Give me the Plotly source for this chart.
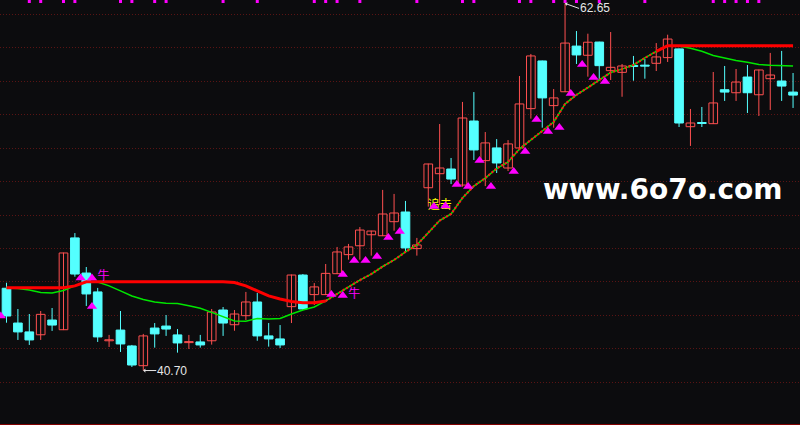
import plotly.graph_objects as go

# ---------------- data ----------------
opens = [45.62, 43.54, 43.01, 42.84, 43.72, 43.14, 48.63, 46.53, 45.40, 42.48,
         43.12, 42.17, 40.99, 43.24, 43.36, 42.83, 42.37, 42.41, 42.48, 44.32,
         43.44, 43.98, 44.80, 42.77, 42.59, 44.52, 46.41, 45.24, 45.24, 46.49,
         47.63, 48.16, 48.82, 48.76, 49.60, 50.18, 47.99, 51.63, 52.47, 52.75,
         51.79, 55.62, 53.25, 54.01, 52.81, 54.01, 56.36, 59.21, 56.54, 57.37,
         60.10, 59.55, 60.34, 58.63, 58.53, 58.90, 58.92, 59.07, 59.41, 59.93,
         55.28, 55.49, 55.46, 57.49, 57.31, 58.25, 57.19, 58.15, 58.01, 57.35]
highs = [45.95, 44.38, 44.08, 44.26, 44.44, 47.75, 48.92, 46.89, 45.64, 42.83,
         44.26, 42.23, 42.89, 43.54, 44.02, 43.18, 42.83, 42.83, 44.38, 44.50,
         44.32, 45.40, 45.34, 43.54, 43.42, 46.44, 46.47, 45.93, 47.07, 48.09,
         48.27, 49.28, 49.06, 51.50, 51.26, 50.84, 48.63, 53.07, 55.44, 53.41,
         56.76, 57.35, 54.96, 54.54, 54.48, 58.31, 59.63, 59.23, 57.53, 62.65,
         61.00, 60.84, 60.36, 60.94, 59.03, 59.51, 59.33, 60.28, 60.78, 59.95,
         56.34, 56.46, 58.55, 58.91, 58.73, 58.97, 58.69, 59.69, 59.81, 58.49]
lows = [43.56, 42.53, 42.23, 42.53, 43.07, 43.12, 46.31, 44.56, 42.41, 42.11,
        41.81, 40.91, 40.70, 42.07, 42.77, 41.77, 41.99, 42.07, 42.25, 42.77,
        43.08, 43.72, 42.48, 42.13, 42.05, 43.54, 44.32, 44.62, 45.22, 46.47,
        47.33, 47.33, 47.57, 48.74, 49.06, 47.85, 47.57, 50.50, 50.60, 51.85,
        51.69, 53.29, 51.73, 52.51, 52.63, 53.99, 55.76, 55.22, 55.22, 57.35,
        59.03, 58.27, 58.07, 58.07, 57.07, 58.03, 58.15, 58.61, 59.15, 55.26,
        54.13, 55.26, 55.44, 56.82, 56.82, 56.10, 55.92, 56.28, 56.82, 56.40]
closes = [43.96, 43.01, 42.53, 44.06, 43.42, 47.73, 46.47, 45.28, 42.71, 42.48,
          42.29, 41.03, 42.77, 42.89, 43.18, 42.35, 42.37, 42.23, 44.20, 43.54,
          44.08, 44.80, 42.77, 42.59, 42.23, 46.41, 44.38, 45.70, 46.51, 47.79,
          48.09, 49.10, 49.04, 50.06, 50.12, 48.03, 48.21, 53.05, 52.81, 52.15,
          55.80, 53.89, 54.31, 53.11, 54.25, 56.64, 59.51, 57.00, 57.00, 60.28,
          59.57, 60.33, 58.93, 58.83, 58.91, 58.88, 58.90, 59.45, 60.52, 55.50,
          55.50, 55.47, 56.70, 57.35, 57.95, 57.31, 58.67, 58.37, 57.71, 57.17]

ma_line = [45.64, 45.61, 45.52, 45.37, 45.34, 45.49, 45.76, 45.99, 45.99, 45.76,
           45.46, 45.16, 44.95, 44.80, 44.72, 44.71, 44.58, 44.42, 44.18, 43.90,
           43.66, 43.65, 43.81, 43.78, 43.81, 44.08, 44.32, 44.50, 44.86, 45.28,
           45.70, 46.11, 46.47, 46.92, 47.31, 47.79, 48.21, 48.92, 49.67, 50.06,
           51.02, 51.73, 52.21, 52.78, 53.17, 53.95, 54.48, 54.99, 55.56, 56.64,
           57.18, 57.62, 58.07, 58.52, 58.72, 58.97, 59.39, 59.78, 60.10, 60.10,
           59.97, 59.79, 59.54, 59.37, 59.24, 59.13, 59.00, 58.95, 58.95, 58.91]

stop_line = [45.65, 45.65, 45.65, 45.65, 45.65, 45.65, 45.76, 46.01, 46.01, 46.01,
             46.01, 46.01, 46.01, 46.01, 46.01, 46.01, 46.01, 46.01, 46.01, 46.01,
             45.96, 45.76, 45.46, 45.16, 44.98, 44.83, 44.76, 44.76, 44.86, 45.28,
             45.70, 46.11, 46.47, 46.92, 47.31, 47.79, 48.21, 48.92, 49.67, 50.06,
             51.02, 51.73, 52.21, 52.78, 53.17, 53.95, 54.48, 54.99, 55.56, 56.64,
             57.18, 57.62, 58.07, 58.52, 58.72, 58.97, 59.39, 59.78, 60.12, 60.12,
             60.12, 60.12, 60.12, 60.12, 60.12, 60.12, 60.12, 60.12, 60.12, 60.12]

signal_idx = [-1, 6, 7, 7, 28, 29, 29, 30, 31, 32, 33, 34, 37, 38, 39, 40, 41, 42,
              44, 45, 46, 47, 48, 49, 50, 51, 52]
signal_price = [43.96, 46.23, 46.23, 44.53, 45.25, 45.19, 46.44, 47.28, 47.28, 47.52,
                48.66, 49.01, 50.51, 50.54, 51.82, 51.70, 53.26, 51.70, 52.60, 53.80,
                55.71, 54.99, 55.23, 57.26, 59.00, 58.22, 57.98]

top_mark_idx = [2, 3, 5, 6, 10, 11, 13, 14, 19, 22, 27, 28, 29, 31, 36, 40, 41,
                45, 46, 48, 49, 50, 52, 56, 62, 63, 64, 65, 66]

niu_idx = [8, 30]
niu_price = [46.29, 45.22]
niu_text = "牛"

zhuiji_idx = [37]
zhuiji_price = [50.54]
zhuiji_text = "追击"

high_label = "62.65"
low_label = "40.70"
watermark = "www.6o7o.com"

# ---------------- styling / scale ----------------
BG = "#0c0c0e"
UP = "#ff5050"
DOWN = "#54ffff"
PX_PER_UNIT = 16.725
Y_TOP = 62.855
PLOT_H = 424
Y_BOT = Y_TOP - PLOT_H / PX_PER_UNIT
grid_levels = [40, 42, 44, 46, 48, 50, 52, 54, 56, 58, 60, 62]

n = len(opens)
idx = list(range(n))
min_body = 1.0 / PX_PER_UNIT

fig = go.Figure()

# wicks
for up_flag, col in ((True, UP), (False, DOWN)):
    wx, wy = [], []
    for i in idx:
        is_up = closes[i] >= opens[i]
        if is_up == up_flag:
            wx += [i, i, None]
            wy += [lows[i], highs[i], None]
    fig.add_trace(go.Scatter(x=wx, y=wy, mode="lines",
                             line=dict(color=col, width=1),
                             hoverinfo="skip", showlegend=False))

# bodies
for up_flag, fill, col in ((True, BG, UP), (False, DOWN, DOWN)):
    bx, base, hgt = [], [], []
    for i in idx:
        is_up = closes[i] >= opens[i]
        if is_up == up_flag:
            lo = min(opens[i], closes[i])
            h = max(abs(closes[i] - opens[i]), min_body)
            bx.append(i)
            base.append(lo)
            hgt.append(h)
    fig.add_trace(go.Bar(x=bx, y=hgt, base=base, width=0.76,
                         marker=dict(color=fill, line=dict(color=col, width=1)),
                         hoverinfo="skip", showlegend=False))

# green moving average
fig.add_trace(go.Scatter(x=idx, y=ma_line, mode="lines",
                         line=dict(color="#00e600", width=1.5),
                         hoverinfo="skip", showlegend=False))

# red stop line: solid where apart, dotted where it rides on the average
merged = [abs(stop_line[i] - ma_line[i]) < 1e-9 for i in idx]
solid_y = []
dot_y = []
for i in idx:
    near_apart = (not merged[i]) or (i > 0 and not merged[i - 1]) or (i < n - 1 and not merged[i + 1])
    solid_y.append(stop_line[i] if near_apart else None)
    dot_y.append(stop_line[i] if merged[i] else None)
fig.add_trace(go.Scatter(x=idx, y=solid_y, mode="lines",
                         line=dict(color="#ff0000", width=3),
                         connectgaps=False, hoverinfo="skip", showlegend=False))
fig.add_trace(go.Scatter(x=idx, y=dot_y, mode="lines",
                         line=dict(color="#ff1a1a", width=2.2, dash="2px,2px"),
                         hoverinfo="skip", showlegend=False))

# texts
fig.add_trace(go.Scatter(x=[i + 0.5 for i in niu_idx], y=niu_price, mode="text",
                         text=[niu_text] * len(niu_idx),
                         textfont=dict(color="#ff00ff", size=12, family="Noto Sans CJK SC"),
                         hoverinfo="skip", showlegend=False))
fig.add_trace(go.Scatter(x=[i - 0.05 for i in zhuiji_idx], y=zhuiji_price, mode="text",
                         text=[zhuiji_text], textposition="middle right",
                         textfont=dict(color="#ffff00", size=12, family="Noto Sans CJK SC"),
                         hoverinfo="skip", showlegend=False))

# triangles
fig.add_trace(go.Scatter(x=[i + 0.5 for i in signal_idx], y=signal_price, mode="markers",
                         marker=dict(symbol="triangle-up", size=9, color="#ff00ff",
                                     line=dict(width=0)),
                         hoverinfo="skip", showlegend=False))

# top magenta marks
fig.add_trace(go.Scatter(x=top_mark_idx,
                         y=[Y_TOP - 1.5 / PX_PER_UNIT] * len(top_mark_idx),
                         mode="markers",
                         marker=dict(symbol="square", size=3, color="#ff00ff", line=dict(width=0)),
                         hoverinfo="skip", showlegend=False))

hi_i = highs.index(max(highs))
lo_i = lows.index(min(lows))
label_font = dict(color="#e6e6e6", size=12, family="Liberation Sans")
fig.add_annotation(x=hi_i, y=highs[hi_i], text=high_label, showarrow=True,
                   ax=14, ay=5, xanchor="left", font=label_font,
                   arrowcolor="#e6e6e6", arrowwidth=1, arrowhead=1, arrowsize=0.7,
                   borderpad=0)
fig.add_annotation(x=lo_i, y=lows[lo_i], text=low_label, showarrow=True,
                   ax=13, ay=0, xanchor="left", font=label_font,
                   arrowcolor="#e6e6e6", arrowwidth=1, arrowhead=1, arrowsize=0.7,
                   borderpad=0)
fig.add_annotation(xref="paper", yref="paper", x=541 / 800, y=1 - 190 / 425,
                   xanchor="left", yanchor="middle", showarrow=False,
                   text="<b>" + watermark + "</b>",
                   font=dict(color="#ffffff", size=28, family="DejaVu Sans"))

fig.update_layout(
    width=800, height=425,
    margin=dict(l=0, r=0, t=0, b=1),
    paper_bgcolor=BG, plot_bgcolor=BG,
    barmode="overlay", bargap=0,
    showlegend=False,
    xaxis=dict(range=[-0.57, 69.61], showgrid=False, zeroline=False,
               showticklabels=False, ticks="", showline=True,
               linecolor="#800000", linewidth=1, fixedrange=True),
    yaxis=dict(range=[Y_BOT, Y_TOP], tickvals=grid_levels, showticklabels=False,
               ticks="", showgrid=True, gridcolor="#5a1414", gridwidth=1,
               griddash="1px,2px", zeroline=False, showline=False, fixedrange=True),
)

fig.write_html(
    "out.html",
    config={"displayModeBar": False, "staticPlot": True},
    post_script="document.body.style.margin='0';document.body.style.overflow='hidden';"
                "document.body.style.background='" + BG + "';",
)
